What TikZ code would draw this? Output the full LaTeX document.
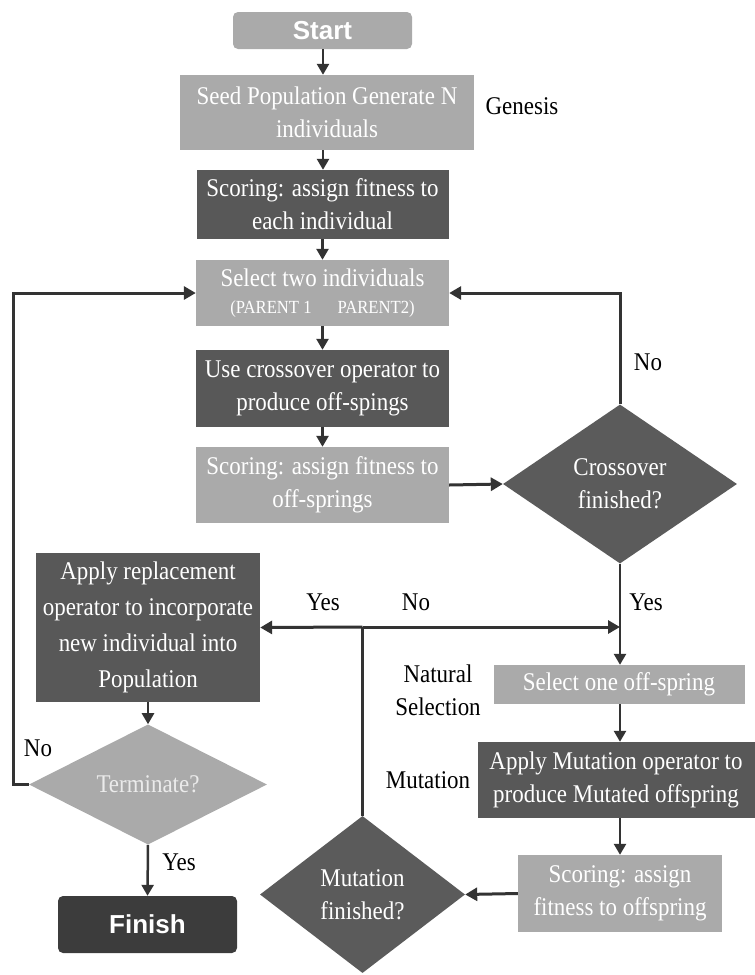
\documentclass[tikz,border=0pt]{standalone}
\usepackage{fontspec}
\setmainfont{Liberation Serif}[FakeStretch=0.9]
\newfontfamily\headfont{Liberation Sans}
\usetikzlibrary{shapes.geometric,arrows.meta}
\definecolor{lightg}{HTML}{AAAAAA}
\definecolor{darkg}{HTML}{585858}
\definecolor{diag}{HTML}{5B5B5B}
\definecolor{finishg}{HTML}{3C3C3C}
\definecolor{arrc}{HTML}{333333}
\tikzset{
  txt/.style={font=\fontsize{25.5}{33}\selectfont, align=center, inner sep=0pt},
  lbox/.style={txt, rectangle, fill=lightg, text=white},
  dbox/.style={txt, rectangle, fill=darkg, text=white},
  ddia/.style={txt, diamond, fill=diag, text=white},
  ldia/.style={txt, diamond, fill=lightg, text=white!92!black},
  term/.style={rectangle, rounded corners=5pt, inner sep=0pt, text=white,
    font=\headfont\bfseries\fontsize{26}{30}\selectfont},
  lbl/.style={txt, text=black},
  arr/.style={draw=arrc, line width=2.5pt, -{Triangle[length=11pt,width=12pt]}},
  tarr/.style={draw=arrc, line width=3pt, -{Triangle[length=12pt,width=13pt]}},
  tline/.style={draw=arrc, line width=3pt}
}
\begin{document}
\begin{tikzpicture}[x=1pt,y=-1pt]
\useasboundingbox (0,0) rectangle (755,975);
% nodes
\node[term, fill=lightg, minimum width=179pt, minimum height=37pt] (start) at (322.5,30.5) {Start};
\node[lbox, minimum width=294pt, minimum height=75pt] (seed) at (327,112.5) {Seed Population Generate N\\individuals};
\node[dbox, minimum width=252pt, minimum height=69pt] (score1) at (322.5,204.5) {Scoring: assign fitness to\\each individual};
\node[lbox, minimum width=253pt, minimum height=66pt] (select) at (322.5,293) {Select two individuals\\[-6pt]{\fontsize{18.5}{20}\selectfont (PARENT 1\hspace{1.4em}PARENT2)}};
\node[dbox, minimum width=253pt, minimum height=77pt] (cross) at (322.5,388.5) {Use crossover operator to\\produce off-spings};
\node[lbox, minimum width=253pt, minimum height=76pt] (score2) at (322.5,485) {Scoring: assign fitness to\\off-springs};
\node[ddia, minimum width=234pt, minimum height=159pt] (crossD) at (620,484) {Crossover\\finished?};
\node[dbox, minimum width=224pt, minimum height=149pt, font=\fontsize{25.5}{36}\selectfont] (repl) at (148,627.5) {Apply replacement\\operator to incorporate\\new individual into\\Population};
\node[lbox, minimum width=251pt, minimum height=39pt] (selone) at (619,684.5) {Select one off-spring};
\node[dbox, minimum width=277pt, minimum height=76pt] (mutbox) at (616,780) {Apply Mutation operator to\\produce Mutated offspring};
\node[lbox, minimum width=204pt, minimum height=77pt] (score3) at (620,893.5) {Scoring: assign\\fitness to offspring};
\node[ddia, minimum width=205pt, minimum height=157pt] (mutD) at (362.5,894.5) {Mutation\\finished?};
\node[ldia, minimum width=238pt, minimum height=85pt] (termD) at (148,784.5) {Terminate?};
\node[term, fill=finishg, minimum width=179pt, minimum height=57pt] (finish) at (147.5,924.5) {Finish};
% labels
\node[lbl] (genesis) at (522,106) {Genesis};
\node[lbl] (noA) at (648,362) {No};
\node[lbl] (yesA) at (323,602) {Yes};
\node[lbl] (noB) at (416,602) {No};
\node[lbl] (yesB) at (646,602) {Yes};
\node[lbl] (natsel) at (438,690) {Natural\\Selection};
\node[lbl] (mutl) at (428,780) {Mutation};
\node[lbl] (noC) at (38,748) {No};
\node[lbl] (yesC) at (179,862) {Yes};
% coordinates
\coordinate (j) at (362.5,627);
\coordinate (jr) at (620,627);
\coordinate (lx) at (13,293);
% connectors
\draw[arr] (start.south -| 323,0) -- (seed.north -| 323,0);
\draw[arr] (seed.south -| 323,0) -- (score1.north -| 323,0);
\draw[arr] (score1) -- (select);
\draw[arr] (select) -- (cross);
\draw[arr] (cross) -- (score2);
\draw[tarr] (score2.east) -- (crossD.west);
\draw[tarr] (crossD.north) |- (select.east);
\draw[arr] (crossD.south) -- (crossD.south |- selone.north);
\draw[tline] (mutD.north) -- (j);
\draw[tarr] (j) -- (repl.east);
\draw[tarr] (j) -- (jr);
\draw[arr] (selone.south -| crossD.south) -- (mutbox.north -| crossD.south);
\draw[arr] (mutbox.south -| score3.north) -- (score3.north);
\draw[tarr] (score3.west) -- (mutD.east);
\draw[arr] (repl.south) -- (termD.north);
\draw[tarr] (termD.west) -| (lx) -- (select.west);
\draw[arr] (termD.south) -- (finish.north);
\end{tikzpicture}
\end{document}
